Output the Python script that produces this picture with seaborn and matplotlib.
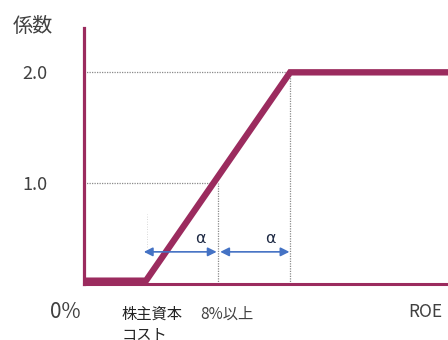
import matplotlib
matplotlib.use("Agg")
import matplotlib.pyplot as plt
import seaborn as sns
import pandas as pd

# ---- data ----
roe_x = [0.14, 1.0, 3.0, 5.4]          # ROE axis positions (cost of equity = 1, 8% = 2)
coef = [0.12, 0.12, 2.0, 2.0]           # coefficient
ytick_vals = [1.0, 2.0]
ytick_labels = ["1.0", "2.0"]
x_labels = ["株主資本\nコスト", "8%以上", "ROE"]
alpha_label = "α"

LINE = "#9B2B5E"
ARROW = "#4472C4"
TXT = "#404040"

sns.set_style("white")
plt.rcParams['font.family'] = ['Noto Sans CJK JP', 'DejaVu Sans']

fig = plt.figure(figsize=(4.48, 3.40), dpi=100)
ax = fig.add_axes([84/448, 1-284/340, 1-84/448, (284-28)/340])

df = pd.DataFrame({"x": roe_x, "y": coef})
sns.lineplot(data=df, x="x", y="y", ax=ax, color=LINE, lw=4.6,
             solid_joinstyle="miter", zorder=3, sort=False)

ax.set_xlim(0.14, 5.19)
ax.set_ylim(0.09, 2.40)

# guide lines
dcol = "#8a8a8a"
ax.plot([0.14, 3.0], [2.0, 2.0], ls=(0, (1, 1)), lw=0.9, color=dcol, zorder=2)
ax.plot([3.0, 3.0], [0.09, 2.0], ls=(0, (1, 1)), lw=0.9, color=dcol, zorder=2)
ax.plot([0.14, 1.96], [1.0, 1.0], ls=(0, (1, 1)), lw=0.9, color=dcol, zorder=2)
ax.plot([2.0, 2.0], [0.09, 1.0], ls=(0, (1, 1)), lw=0.9, color=dcol, zorder=2)
ax.plot([1.02, 1.02], [0.42, 0.72], ls=(0, (1, 2)), lw=0.6, color="#cccccc", zorder=1)

# arrows
for a, b in [(0.97, 1.98), (2.03, 2.99)]:
    ax.annotate("", xy=(a, 0.38), xytext=(b, 0.38),
                arrowprops=dict(arrowstyle="<|-|>", color=ARROW, lw=1.2,
                                mutation_scale=13, shrinkA=0, shrinkB=0), zorder=4)
ax.text(1.75, 0.50, alpha_label, color="#1F2A44", fontsize=11.5, ha="center", va="center",
        family=['DejaVu Sans'])
ax.text(2.72, 0.50, alpha_label, color="#1F2A44", fontsize=11.5, ha="center", va="center",
        family=['DejaVu Sans'])

# spines
for s in ["top", "right"]:
    ax.spines[s].set_visible(False)
ax.spines["left"].set_color(LINE)
ax.spines["left"].set_linewidth(2.3)
ax.spines["bottom"].set_color(LINE)
ax.spines["bottom"].set_linewidth(2.2)

ax.set_xticks([])
ax.set_yticks(ytick_vals)
ax.set_yticklabels(ytick_labels)
ax.tick_params(axis="y", length=0, pad=26, labelsize=13, labelcolor=TXT)
ax.set_xlabel("")
ax.set_ylabel("")

def ftext(px, py, s, **kw):
    fig.text(px/448, 1-py/340, s, **kw)

ftext(33, 27, "係数", fontsize=14.5, color=TXT, ha="center", va="center")
ftext(65, 312, "0%", fontsize=15, color=TXT, ha="center", va="center")
ftext(122, 306, x_labels[0], fontsize=11, color="#222222", ha="left", va="top",
      linespacing=1.25)
ftext(200, 306, x_labels[1], fontsize=11, color=TXT, ha="left", va="top")
ftext(408, 303, x_labels[2], fontsize=12.5, color=TXT, ha="left", va="top")

fig.savefig("out.png", dpi=100)
